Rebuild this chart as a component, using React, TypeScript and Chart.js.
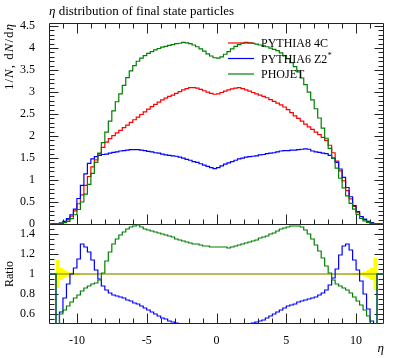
import React, { useEffect, useRef } from 'react';
import { Chart, registerables } from 'chart.js';

Chart.register(...registerables);

// Histogram binning in eta (bin edges start at BIN_START, width BIN_WIDTH)
const BIN_START = -12;
const BIN_WIDTH = 0.25;

// 1/N dN/deta, PYTHIA8 4C (reference of the ratio)
const pythia8_4C: number[] = [
  0, 0.005, 0.01, 0.02,
  0.05, 0.10, 0.18, 0.30,
  0.46, 0.66, 0.88, 1.08,
  1.30, 1.46, 1.60, 1.74,
  1.86, 1.94, 2.01, 2.07,
  2.13, 2.19, 2.25, 2.31,
  2.37, 2.43, 2.49, 2.55,
  2.61, 2.67, 2.72, 2.77,
  2.82, 2.86, 2.90, 2.93,
  2.97, 3.01, 3.05, 3.08,
  3.10, 3.10, 3.09, 3.06,
  3.03, 3.00, 2.97, 2.95,
  2.96, 2.99, 3.02, 3.05,
  3.07, 3.09, 3.10, 3.08,
  3.05, 3.02, 2.99, 2.96,
  2.93, 2.90, 2.87, 2.83,
  2.79, 2.75, 2.71, 2.66,
  2.60, 2.53, 2.46, 2.40,
  2.34, 2.27, 2.21, 2.15,
  2.09, 2.03, 1.97, 1.90,
  1.79, 1.62, 1.43, 1.21,
  0.98, 0.76, 0.57, 0.40,
  0.27, 0.17, 0.10, 0.05,
  0.025, 0.01, 0.005, 0,
];

// PYTHIA6 Z2*
const pythia6_Z2star: number[] = [
  0, 0.005, 0.01, 0.02,
  0.06, 0.12, 0.21, 0.34,
  0.58, 0.88, 1.14, 1.38,
  1.48, 1.53, 1.56, 1.58,
  1.59, 1.61, 1.63, 1.64,
  1.66, 1.67, 1.68, 1.69,
  1.69, 1.69, 1.68, 1.67,
  1.65, 1.64, 1.62, 1.61,
  1.59, 1.57, 1.56, 1.55,
  1.54, 1.52, 1.50, 1.47,
  1.45, 1.42, 1.40, 1.37,
  1.34, 1.31, 1.28, 1.26,
  1.28, 1.32, 1.36, 1.39,
  1.42, 1.45, 1.48, 1.50,
  1.52, 1.53, 1.54, 1.55,
  1.57, 1.58, 1.60, 1.61,
  1.62, 1.64, 1.66, 1.67,
  1.67, 1.68, 1.68, 1.69,
  1.70, 1.71, 1.70, 1.66,
  1.64, 1.63, 1.61, 1.60,
  1.56, 1.50, 1.40, 1.25,
  1.06, 0.83, 0.62, 0.42,
  0.28, 0.17, 0.11, 0.06,
  0.03, 0.01, 0.005, 0,
];

// PHOJET
const phojet: number[] = [
  0, 0.003, 0.008, 0.015,
  0.03, 0.06, 0.12, 0.21,
  0.33, 0.50, 0.68, 0.90,
  1.15, 1.40, 1.61, 1.85,
  2.09, 2.34, 2.57, 2.78,
  2.96, 3.15, 3.33, 3.48,
  3.60, 3.70, 3.77, 3.83,
  3.88, 3.92, 3.96, 3.99,
  4.02, 4.04, 4.06, 4.08,
  4.10, 4.11, 4.13, 4.12,
  4.10, 4.07, 4.03, 3.98,
  3.93, 3.87, 3.82, 3.78,
  3.77, 3.80, 3.86, 3.92,
  3.98, 4.04, 4.08, 4.11,
  4.13, 4.12, 4.11, 4.09,
  4.07, 4.05, 4.03, 4.00,
  3.97, 3.94, 3.89, 3.83,
  3.76, 3.67, 3.58, 3.46,
  3.32, 3.17, 3.00, 2.82,
  2.62, 2.41, 2.18, 1.95,
  1.72, 1.50, 1.27, 1.04,
  0.82, 0.64, 0.47, 0.34,
  0.22, 0.13, 0.07, 0.035,
  0.015, 0.008, 0.003, 0,
];

// Ratio panel: PYTHIA6 Z2* / PYTHIA8 4C
const ratioPythia6: number[] = [
  1.0, 1.0, 0.40, 0.62,
  0.76, 0.90, 1.00, 1.06,
  1.15, 1.30, 1.27, 1.22,
  1.14, 1.04, 0.95, 0.88,
  0.84, 0.81, 0.79, 0.78,
  0.77, 0.76, 0.74, 0.73,
  0.71, 0.70, 0.68, 0.66,
  0.64, 0.62, 0.60, 0.58,
  0.56, 0.55, 0.53, 0.52,
  0.51, 0.50, 0.49, 0.48,
  0.47, 0.46, 0.45, 0.45,
  0.44, 0.44, 0.43, 0.43,
  0.43, 0.44, 0.45, 0.46,
  0.47, 0.47, 0.48, 0.48,
  0.49, 0.50, 0.51, 0.52,
  0.53, 0.54, 0.56, 0.58,
  0.60, 0.62, 0.64, 0.66,
  0.68, 0.69, 0.70, 0.72,
  0.73, 0.74, 0.75, 0.76,
  0.77, 0.79, 0.81, 0.84,
  0.89, 0.96, 1.05, 1.19,
  1.28, 1.30, 1.24, 1.14,
  1.04, 0.93, 0.80, 0.65,
  0.53, 0.40, 1.0, 1.0,
];

// Ratio panel: PHOJET / PYTHIA8 4C
const ratioPhojet: number[] = [
  1.0, 1.0, 0.40, 0.60,
  0.64, 0.68, 0.72, 0.76,
  0.79, 0.83, 0.86, 0.88,
  0.90, 0.91, 0.94, 1.01,
  1.13, 1.22, 1.30, 1.35,
  1.39, 1.42, 1.45, 1.47,
  1.48, 1.49, 1.47, 1.45,
  1.44, 1.43, 1.42, 1.41,
  1.40, 1.39, 1.38, 1.37,
  1.35, 1.34, 1.33, 1.32,
  1.31, 1.30, 1.30, 1.29,
  1.28, 1.28, 1.27, 1.27,
  1.27, 1.27, 1.27, 1.26,
  1.27, 1.28, 1.29, 1.30,
  1.31, 1.32, 1.33, 1.34,
  1.36, 1.37, 1.38, 1.40,
  1.41, 1.43, 1.45, 1.46,
  1.47, 1.48, 1.48, 1.48,
  1.47, 1.44, 1.40, 1.35,
  1.29, 1.23, 1.16, 1.08,
  1.01, 0.94, 0.90, 0.88,
  0.86, 0.84, 0.81, 0.77,
  0.73, 0.69, 0.64, 0.58,
  0.45, 0.40, 1.0, 1.0,
];

// Relative statistical uncertainty of the reference (yellow band)
const refRelError: number[] = [
  0, 0, 0.14, 0.06,
  0.04, 0.025, 0.015, 0.01,
  0.007, 0.005, 0.004, 0.003,
  0.002, 0.002, 0.002, 0.002,
  0.002, 0.002, 0.002, 0.002,
  0.002, 0.002, 0.002, 0.002,
  0.002, 0.002, 0.002, 0.002,
  0.002, 0.002, 0.002, 0.002,
  0.002, 0.002, 0.002, 0.002,
  0.002, 0.002, 0.002, 0.002,
  0.002, 0.002, 0.002, 0.002,
  0.002, 0.002, 0.002, 0.002,
  0.002, 0.002, 0.002, 0.002,
  0.002, 0.002, 0.002, 0.002,
  0.002, 0.002, 0.002, 0.002,
  0.002, 0.002, 0.002, 0.002,
  0.002, 0.002, 0.002, 0.002,
  0.002, 0.002, 0.002, 0.002,
  0.002, 0.002, 0.002, 0.002,
  0.002, 0.002, 0.002, 0.002,
  0.002, 0.002, 0.002, 0.002,
  0.003, 0.004, 0.005, 0.007,
  0.01, 0.015, 0.025, 0.04,
  0.06, 0.16, 0, 0,
];

const xMajorTicks = [-10, -5, 0, 5, 10];
const yMajorTicks = [0, 0.5, 1, 1.5, 2, 2.5, 3, 3.5, 4, 4.5];
const ratioMajorTicks = [0.6, 0.8, 1, 1.2, 1.4];

const seriesNames = ['PYTHIA8 4C', 'PYTHIA6 Z2', 'PHOJET'];
const seriesSup = ['', '*', ''];
const seriesColors = ['#ff0000', '#0000ff', '#008000'];
const titleParts: [string, boolean][] = [['η', true], [' distribution of final state particles', false]];
const yLabelParts: [string, boolean][] = [['1/', false], ['N', true], [', d', false], ['N', true], ['/d', false], ['η', true]];
const ratioLabel = 'Ratio';
const xLabel = 'η';

const FAMILY = '"Liberation Serif", "Times New Roman", serif';

function steps(values: number[]) {
  const pts = values.map((v, i) => ({ x: BIN_START + i * BIN_WIDTH, y: v }));
  pts.push({ x: BIN_START + values.length * BIN_WIDTH, y: values[values.length - 1] });
  return pts;
}

function drawParts(ctx: CanvasRenderingContext2D, parts: [string, boolean][], size: number, x: number, y: number) {
  let cx = x;
  for (const [t, it] of parts) {
    ctx.font = `${it ? 'italic ' : ''}${size}px ${FAMILY}`;
    ctx.fillText(t, cx, y);
    cx += ctx.measureText(t).width;
  }
  return cx - x;
}

function measureParts(ctx: CanvasRenderingContext2D, parts: [string, boolean][], size: number) {
  let w = 0;
  for (const [t, it] of parts) {
    ctx.font = `${it ? 'italic ' : ''}${size}px ${FAMILY}`;
    w += ctx.measureText(t).width;
  }
  return w;
}

const rivetPlugin = {
  id: 'rivetDecor',
  beforeDatasetsDraw(chart: any) {
    const ctx: CanvasRenderingContext2D = chart.ctx;
    const xs = chart.scales.x, ys = chart.scales.y, yr = chart.scales.yr;
    const L = Math.round(xs.left) + 0.5, R = Math.round(xs.right) - 0.5;
    const T = Math.round(ys.top) + 0.5, M = Math.round(ys.bottom) + 0.5, B = Math.round(yr.bottom) - 0.5;
    ctx.save();
    ctx.strokeStyle = '#222';
    ctx.lineWidth = 1;
    ctx.beginPath();
    ctx.rect(L, T, R - L, M - T);
    ctx.rect(L, M, R - L, B - M);
    for (let v = -11; v <= 11; v += 1) {
      const len = xMajorTicks.includes(v) ? 10 : 5;
      const px = Math.round(xs.getPixelForValue(v)) + 0.5;
      ctx.moveTo(px, T); ctx.lineTo(px, T + len);
      ctx.moveTo(px, M); ctx.lineTo(px, M - len);
      ctx.moveTo(px, B); ctx.lineTo(px, B - len);
    }
    for (let k = 1; k <= 45; k++) {
      const v = k / 10;
      const major = yMajorTicks.some((t) => Math.abs(t - v) < 1e-6);
      const len = major ? 9 : 5;
      const py = Math.round(ys.getPixelForValue(v)) + 0.5;
      ctx.moveTo(L, py); ctx.lineTo(L + len, py);
      ctx.moveTo(R, py); ctx.lineTo(R - len, py);
    }
    for (let k = 11; k <= 29; k++) {
      const v = k * 0.05;
      const major = ratioMajorTicks.some((t) => Math.abs(t - v) < 1e-6);
      const len = major ? 9 : 5;
      const py = Math.round(yr.getPixelForValue(v)) + 0.5;
      ctx.moveTo(L, py); ctx.lineTo(L + len, py);
      ctx.moveTo(R, py); ctx.lineTo(R - len, py);
    }
    ctx.stroke();
    ctx.restore();
  },
  afterDraw(chart: any) {
    const ctx: CanvasRenderingContext2D = chart.ctx;
    const xs = chart.scales.x, ys = chart.scales.y;
    ctx.save();
    ctx.fillStyle = '#000';
    ctx.textBaseline = 'alphabetic';
    ctx.textAlign = 'left';
    // title
    drawParts(ctx, titleParts, 13, xs.left, 15);
    // legend
    for (let i = 0; i < seriesNames.length; i++) {
      const y = 43 + i * 15.5;
      ctx.strokeStyle = seriesColors[i];
      ctx.lineWidth = 1.2;
      ctx.beginPath();
      ctx.moveTo(228, y);
      ctx.lineTo(254, y);
      ctx.stroke();
      ctx.font = `12px ${FAMILY}`;
      ctx.fillText(seriesNames[i], 261, y + 4);
      if (seriesSup[i]) {
        const w = ctx.measureText(seriesNames[i]).width;
        ctx.font = `8px ${FAMILY}`;
        ctx.fillText(seriesSup[i], 261 + w + 0.5, y - 0.5);
      }
    }
    // y label (rotated, aligned with top of the upper panel)
    ctx.textBaseline = 'middle';
    (ctx as any).letterSpacing = '1px';
    const w = measureParts(ctx, yLabelParts, 13);
    ctx.translate(10, ys.top + w);
    ctx.rotate(-Math.PI / 2);
    drawParts(ctx, yLabelParts, 13, 0, 0);
    ctx.restore();
  },
};

export default function App() {
  const ref = useRef<HTMLCanvasElement | null>(null);
  useEffect(() => {
    if (!ref.current) return;
    const tickFont = { family: FAMILY, size: 12 };
    const line = (label: string, values: number[], color: string, axis: string, order: number) => ({
      label,
      data: steps(values),
      borderColor: color,
      backgroundColor: color,
      borderWidth: 1.2,
      pointRadius: 0,
      stepped: 'before' as const,
      tension: 0,
      fill: false,
      yAxisID: axis,
      order,
    });
    const chart = new Chart(ref.current, {
      type: 'line',
      data: {
        datasets: [
          {
            label: 'band-lo',
            data: steps(refRelError.map((e) => 1 - e)),
            borderWidth: 0,
            pointRadius: 0,
            stepped: 'before',
            fill: false,
            yAxisID: 'yr',
            borderColor: 'rgba(0,0,0,0)',
            order: 20,
          },
          {
            label: 'band-hi',
            data: steps(refRelError.map((e) => 1 + e)),
            borderWidth: 0,
            pointRadius: 0,
            stepped: 'before',
            fill: '-1',
            backgroundColor: '#ffff00',
            borderColor: 'rgba(0,0,0,0)',
            yAxisID: 'yr',
            order: 19,
          },
          {
            label: 'ref-ratio',
            data: steps(pythia8_4C.map(() => 1)),
            borderColor: '#7a7a00',
            borderWidth: 1.2,
            pointRadius: 0,
            stepped: 'before',
            fill: false,
            yAxisID: 'yr',
            order: 10,
          },
          line(seriesNames[0], pythia8_4C, seriesColors[0], 'y', 3),
          line(seriesNames[1], pythia6_Z2star, seriesColors[1], 'y', 2),
          line(seriesNames[2], phojet, seriesColors[2], 'y', 1),
          line('r-' + seriesNames[1], ratioPythia6, seriesColors[1], 'yr', 5),
          line('r-' + seriesNames[2], ratioPhojet, seriesColors[2], 'yr', 4),
        ] as any,
      },
      options: {
        responsive: false,
        maintainAspectRatio: false,
        animation: false,
        events: [],
        layout: { padding: { top: 23, right: 13, left: 0, bottom: 0 } },
        plugins: {
          legend: { display: false },
          title: { display: false },
          tooltip: { enabled: false },
        },
        scales: {
          x: {
            type: 'linear',
            position: 'bottom',
            min: -12,
            max: 12,
            grid: { display: false },
            border: { display: false },
            afterBuildTicks: (s: any) => { s.ticks = xMajorTicks.map((v) => ({ value: v })); },
            afterFit: (s: any) => { s.height = 34; },
            ticks: {
              font: tickFont,
              color: '#000',
              padding: 2,
              maxRotation: 0,
              autoSkip: false,
              callback: (v: any) => String(v),
            },
            title: {
              display: true,
              text: xLabel,
              align: 'end',
              color: '#000',
              font: { family: FAMILY, size: 13, style: 'italic' },
              padding: { top: 0, bottom: 2 },
            },
          },
          y: {
            type: 'linear',
            position: 'left',
            stack: 'panels',
            stackWeight: 201,
            weight: 1,
            min: 0,
            max: 4.57,
            grid: { display: false },
            border: { display: false },
            afterBuildTicks: (s: any) => { s.ticks = yMajorTicks.map((v) => ({ value: v })); },
            afterFit: (s: any) => { s.width = 49; },
            ticks: { font: tickFont, color: '#000', padding: 6, autoSkip: false, callback: (v: any) => String(v) },
          },
          yr: {
            type: 'linear',
            position: 'left',
            stack: 'panels',
            stackWeight: 100,
            weight: 0,
            min: 0.5,
            max: 1.5,
            grid: { display: false },
            border: { display: false },
            afterBuildTicks: (s: any) => { s.ticks = ratioMajorTicks.map((v) => ({ value: v })); },
            afterFit: (s: any) => { s.width = 49; },
            ticks: { font: tickFont, color: '#000', padding: 6, autoSkip: false, callback: (v: any) => String(v) },
            title: {
              display: true,
              text: ratioLabel,
              align: 'center',
              color: '#000',
              font: { family: FAMILY, size: 12 },
              padding: { top: 3, bottom: 0 },
            },
          },
        },
      } as any,
      plugins: [rivetPlugin],
    });
    return () => chart.destroy();
  }, []);
  return (
    <div style={{ position: 'absolute', left: 0, top: 0, width: 397, height: 358, background: '#fff' }}>
      <canvas ref={ref} width={397} height={358} style={{ display: 'block', width: 397, height: 358 }} />
    </div>
  );
}
